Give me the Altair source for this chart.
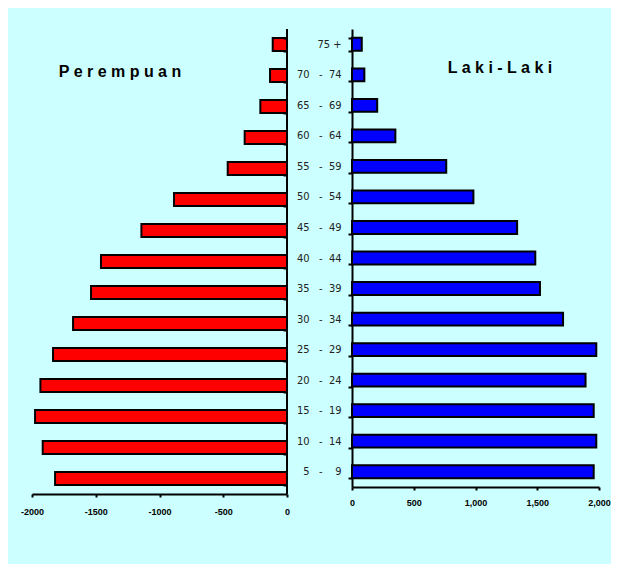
import altair as alt
import pandas as pd

NB = "\u00a0"
FS = "\u2007"

age_lo = ["75", "70", "65", "60", "55", "50", "45", "40", "35", "30", "25", "20", "15", "10", "5"]
age_hi = ["+", "74", "69", "64", "59", "54", "49", "44", "39", "34", "29", "24", "19", "14", "9"]
female = [112, 133, 209, 332, 465, 886, 1142, 1459, 1537, 1678, 1835, 1934, 1976, 1916, 1819]
male = [79, 100, 204, 351, 763, 983, 1337, 1484, 1522, 1709, 1978, 1891, 1957, 1978, 1957]
left_ticks = [-2000, -1500, -1000, -500, 0]
right_ticks = [0, 500, 1000, 1500, 2000]


def make_label(lo, hi):
    if hi == "+":
        return lo + NB + "+"
    lo_s = lo if len(lo) == 2 else FS + lo
    hi_s = hi if len(hi) == 2 else FS + hi
    return lo_s + NB * 3 + "-" + NB * 2 + hi_s


labels = [make_label(a, b) for a, b in zip(age_lo, age_hi)]

df = pd.DataFrame({"age": labels, "female": female, "male": male})

BG = "#CCFFFF"
FONT = "Liberation Sans"

yscale = alt.Scale(domain=labels, paddingInner=0.58, paddingOuter=0.29)

left_base = alt.Chart(df).transform_calculate(neg="-datum.female")

left_bars = left_base.mark_bar(color="#FF0000", stroke="black", strokeWidth=2).encode(
    x=alt.X(
        "neg:Q",
        scale=alt.Scale(domain=[-2000, 0], nice=False),
        axis=alt.Axis(
            values=left_ticks,
            labelExpr="datum.value == 0 ? '0' : '-' + abs(datum.value)",
            labelFlush=False,
            title=None,
            grid=False,
            tickSize=3,
            tickWidth=2,
            domainWidth=2,
            domainColor="black",
            tickColor="black",
            labelFont=FONT,
            labelFontWeight="bold",
            labelFontSize=9,
            labelColor="black",
            labelPadding=10,
        ),
    ),
    y=alt.Y(
        "age:N",
        sort=labels,
        scale=yscale,
        axis=alt.Axis(
            orient="right",
            labels=False,
            title=None,
            domain=False,
            tickBand="extent",
            tickSize=4,
            tickWidth=2,
            tickColor="black",
            offset=-4,
            zindex=1,
        ),
    ),
)

left_line = alt.Chart(pd.DataFrame({"v": [0]})).mark_rule(color="black", strokeWidth=2).encode(
    x=alt.X("v:Q")
)

left_title = alt.Chart(pd.DataFrame({"t": [" ".join("Perempuan")]})).mark_text(
    font=FONT, fontSize=16, fontWeight="bold", color="black", align="center", baseline="middle"
).encode(text="t:N", x=alt.value(88), y=alt.value(43))

left = alt.layer(left_bars, left_line, left_title).properties(width=255, height=465)

right_bars = alt.Chart(df).mark_bar(color="#0000FF", stroke="black", strokeWidth=2).encode(
    x=alt.X(
        "male:Q",
        scale=alt.Scale(domain=[0, 2000], nice=False),
        axis=alt.Axis(
            values=right_ticks,
            format=",.0f",
            labelFlush=False,
            title=None,
            grid=False,
            tickSize=3,
            tickWidth=2,
            domainWidth=2,
            domainColor="black",
            tickColor="black",
            labelFont=FONT,
            labelFontWeight="bold",
            labelFontSize=9,
            labelColor="black",
            labelPadding=8,
        ),
    ),
    y=alt.Y(
        "age:N",
        sort=labels,
        scale=yscale,
        axis=alt.Axis(
            orient="left",
            title=None,
            tickBand="extent",
            tickSize=4,
            tickWidth=2,
            tickColor="black",
            domainWidth=2,
            domainColor="black",
            labelFont="Liberation Sans Narrow, Arial Narrow, DejaVu Sans Condensed, sans-serif",
            labelFontSize=11,
            labelColor="#222222",
            labelPadding=7,
        ),
    ),
)

right_title = alt.Chart(pd.DataFrame({"t": [" ".join("Laki-Laki")]})).mark_text(
    font=FONT, fontSize=16, fontWeight="bold", color="black", align="center", baseline="middle"
).encode(text="t:N", x=alt.value(148), y=alt.value(39))

right = alt.layer(right_bars, right_title).properties(width=247, height=458)

chart = (
    alt.hconcat(left, right, spacing=65, bounds="flush")
    .resolve_scale(y="independent", x="independent")
    .properties(
        background=BG,
        padding={"left": 12, "top": 15, "right": 0, "bottom": 48},
    )
    .configure_view(stroke=None)
)

chart.save("out.html", embed_options={"renderer": "svg", "actions": False})
